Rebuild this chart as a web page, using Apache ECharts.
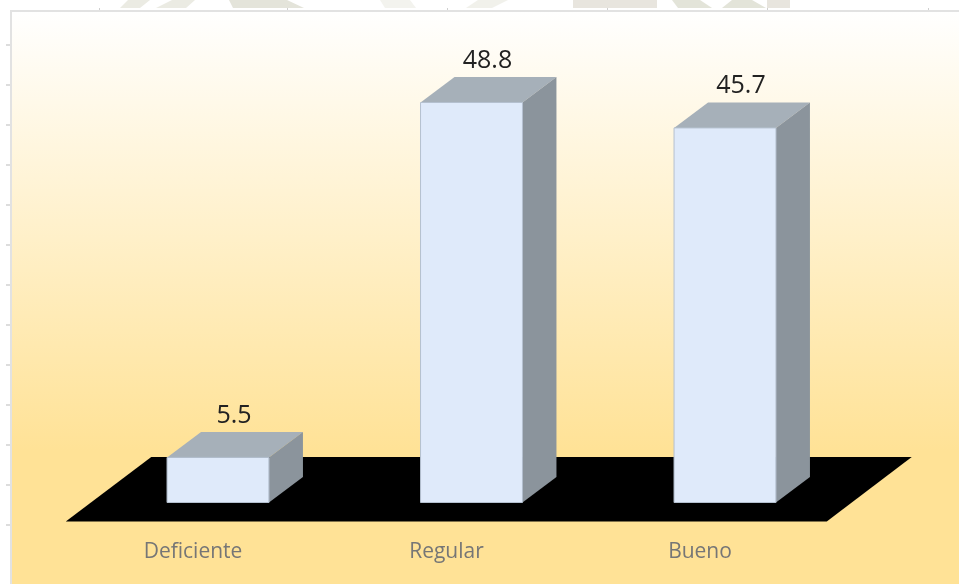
<!DOCTYPE html>
<html>
<head>
<meta charset="utf-8">
<style>html,body{margin:0;padding:0;background:#fff}#c{width:959px;height:584px}</style>
<script src="https://cdn.jsdelivr.net/npm/echarts@6/dist/echarts.min.js"></script>
</head>
<body>
<div id="c"></div>
<script>
const categories = ['Deficiente', 'Regular', 'Bueno'];
const values = [5.5, 48.8, 45.7];
const valueLabels = ['5.5', '48.8', '45.7'];

const chart = echarts.init(document.getElementById('c'), null, {renderer: 'canvas'});
const DX = 34, DY = 25.5;     // 3D depth of the bars
const BAND = 0.402;           // bar share of band

function barItem(params, api) {
  const i = api.value(0), v = api.value(1);
  const base = api.coord([i, 0]);
  const top = api.coord([i, v]);
  const w = api.size([1, 0])[0] * BAND;
  const l = base[0] - w / 2, r = base[0] + w / 2;
  return {
    type: 'group',
    children: [
      {type: 'polygon', shape: {points: [[l, top[1]], [l + DX, top[1] - DY], [r + DX, top[1] - DY], [r, top[1]]]},
       style: {fill: '#a6b0b9'}},
      {type: 'polygon', shape: {points: [[r, top[1]], [r + DX, top[1] - DY], [r + DX, base[1] - DY], [r, base[1]]]},
       style: {fill: '#8b949c'}},
      {type: 'rect', shape: {x: l, y: top[1], width: w, height: base[1] - top[1]},
       style: {fill: '#dfeafa', stroke: '#b4c0cf', lineWidth: 1}},
      {type: 'text', style: {text: valueLabels[i], x: (l + r + DX) / 2 - 1, y: top[1] - DY - 4,
        align: 'center', verticalAlign: 'bottom', fill: '#222222', fontSize: 25, fontFamily: 'Open Sans'}}
    ]
  };
}

function floorItem(params, api) {
  const a = api.coord([0, 0]), b = api.coord([2, 0]);
  const half = api.size([1, 0])[0] / 2;
  const x0 = a[0] - half, x1 = b[0] + half, y = a[1];
  return {
    type: 'polygon',
    shape: {points: [[x0 - 25.5, y + 19], [x1 - 25, y + 19], [x1 + 60, y - 45.5], [x0 + 60, y - 45.5]]},
    style: {fill: '#000000'}
  };
}

const ticksLeft = [45, 85, 125, 165, 205, 245, 285, 325, 365, 405, 445, 485, 525];
const ticksTop = [99, 287, 447, 607, 767, 928];
const watermark = [
  {c: '#ebebe3', p: [[120, 8], [128, 0], [150, 0], [140, 8]]},
  {c: '#ebebe3', p: [[156, 8], [172, 0], [195, 0], [186, 8]]},
  {c: '#e4e4da', p: [[233, 8], [229, 0], [287, 0], [304, 8]]},
  {c: '#f3f3ee', p: [[385, 8], [380, 0], [410, 0], [416, 8]]},
  {c: '#f1f1eb', p: [[466, 8], [478, 0], [508, 0], [492, 8]]},
  {c: '#e8e5de', p: [[573, 8], [573, 0], [657, 0], [657, 8]]},
  {c: '#e3e4d9', p: [[678, 8], [672, 0], [700, 0], [712, 8]]},
  {c: '#e3e4d9', p: [[722, 8], [732, 0], [752, 0], [766, 8]]},
  {c: '#e8e5de', p: [[767, 8], [767, 0], [790, 0], [790, 8]]}
];
const graphics = [
  {type: 'rect', z: -10, shape: {x: 11, y: 11, width: 960, height: 590},
   style: {fill: new echarts.graphic.LinearGradient(0, 0, 0, 1, [
     {offset: 0, color: '#ffffff'},
     {offset: 0.745, color: '#ffe296'},
     {offset: 1, color: '#ffe296'}
   ]), stroke: '#e2e2e2', lineWidth: 2}}
];
ticksLeft.forEach(y => graphics.push({type: 'rect', z: -10, shape: {x: 6, y: y - 1, width: 4, height: 2}, style: {fill: '#dddddd'}}));
ticksTop.forEach(x => graphics.push({type: 'rect', z: -10, shape: {x: x, y: 8, width: 1, height: 2}, style: {fill: '#cfcfcf'}}));
watermark.forEach(w => graphics.push({type: 'polygon', z: -11, shape: {points: w.p}, style: {fill: w.c}}));

chart.setOption({
  animation: false,
  backgroundColor: '#ffffff',
  graphic: graphics,
  grid: {left: 91.25, right: 107.25, top: 102.5, bottom: 81.5, containLabel: false},
  xAxis: {
    type: 'category', data: categories,
    axisLine: {show: false}, axisTick: {show: false},
    axisLabel: {color: '#767676', fontSize: 21, fontFamily: 'Open Sans', margin: 39,
      formatter: v => v, padding: [0, 50, 0, 0]}
  },
  yAxis: {type: 'value', min: 0, max: 48.8, show: false},
  series: [
    {type: 'custom', name: 'floor', z: 1, renderItem: floorItem, data: [[0, 0]], silent: true},
    {type: 'custom', name: 'Valor', z: 2, renderItem: barItem,
     encode: {x: 0, y: 1}, data: values.map((v, i) => [i, v])}
  ]
});
</script>
</body>
</html>
